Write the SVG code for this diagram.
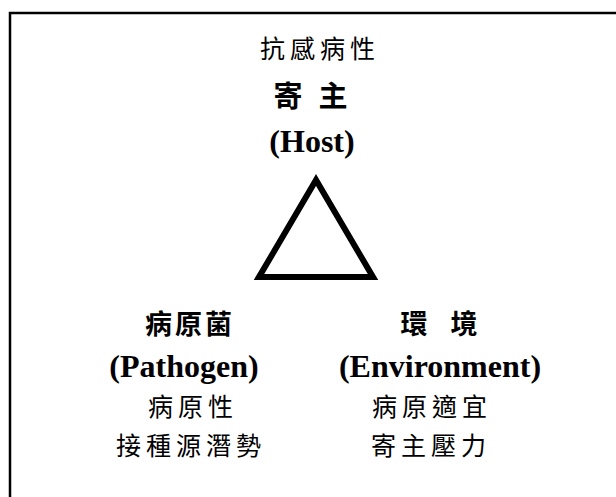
<svg xmlns="http://www.w3.org/2000/svg" width="616" height="497" viewBox="0 0 616 497">
<style>
.cjk{font-family:"Noto Sans CJK TC","Noto Sans CJK SC",sans-serif;font-size:25px;fill:#000;text-anchor:middle;letter-spacing:5px}
.cjkb{font-family:"Noto Sans CJK TC","Noto Sans CJK SC",sans-serif;font-weight:bold;fill:#000;text-anchor:middle}
.en{font-family:"Liberation Serif","Times New Roman",serif;font-weight:bold;font-size:32px;fill:#000;text-anchor:middle}
.frame{stroke:#000;stroke-width:2.5;fill:none}
</style>
<g id="frame">
<path class="frame" d="M10,497 V13 H616"/>
</g>
<g id="host">
<text class="cjk" x="320" y="58">抗感病性</text>
<text class="cjkb" x="288" y="107" font-size="29">寄</text>
<text class="cjkb" x="333" y="107" font-size="29">主</text>
<text class="en" x="312" y="152">(Host)</text>
</g>
<g id="connectors">
<polygon points="316,180 259,277 373,277" fill="none" stroke="#000" stroke-width="6" stroke-linejoin="miter"/>
</g>
<g id="pathogen">
<text class="cjkb" x="190" y="334" font-size="27" letter-spacing="3">病原菌</text>
<text class="en" x="184" y="377">(Pathogen)</text>
<text class="cjk" x="193" y="416">病原性</text>
<text class="cjk" x="191" y="455">接種源潛勢</text>
</g>
<g id="environment">
<text class="cjkb" x="414" y="334" font-size="27">環</text>
<text class="cjkb" x="464" y="334" font-size="27">境</text>
<text class="en" x="440" y="377">(Environment)</text>
<text class="cjk" x="432" y="416">病原適宜</text>
<text class="cjk" x="431" y="455">寄主壓力</text>
</g>
</svg>
